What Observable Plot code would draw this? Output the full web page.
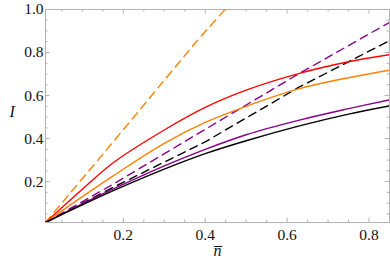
<!DOCTYPE html>
<html><head><meta charset="utf-8">
<script src="https://cdn.jsdelivr.net/npm/d3@7"></script>
<script src="https://cdn.jsdelivr.net/npm/@observablehq/plot@0.6"></script>
<style>body{margin:0;background:#fff}</style>
</head><body><div id="chart"></div>
<script>
// shared x grid for the solid curves
const nSolid = [0.01, 0.1, 0.177, 0.3, 0.4, 0.5, 0.63, 0.75, 0.85];
const redSolid    = [0.01, 0.165, 0.29, 0.44, 0.545, 0.625, 0.703, 0.757, 0.79];
const orangeSolid = [0.01, 0.13, 0.229, 0.378, 0.475, 0.55, 0.632, 0.683, 0.718];
const purpleSolid = [0.01, 0.097, 0.167, 0.273, 0.35, 0.418, 0.486, 0.539, 0.58];
const blackSolid  = [0.01, 0.092, 0.159, 0.258, 0.33, 0.39, 0.459, 0.514, 0.552];
// dashed curves
const nOrangeDash = [0.01, 0.157, 0.379, 0.448];
const orangeDash  = [0.01, 0.343, 0.852, 1.0];
const nPurpleDash = [0.01, 0.177, 0.4, 0.63, 0.85];
const purpleDash  = [0.01, 0.19, 0.443, 0.703, 0.94];
const nBlackDash  = [0.01, 0.177, 0.4, 0.63, 0.85];
const blackDash   = [0.01, 0.175, 0.385, 0.64, 0.855];
// ticks
const xMajor = [0.2, 0.4, 0.6, 0.8];
const yMajor = [0.2, 0.4, 0.6, 0.8, 1.0];
const xMinor = [0.05,0.1,0.15,0.25,0.3,0.35,0.45,0.5,0.55,0.65,0.7,0.75,0.85];
const yMinor = [0.05,0.1,0.15,0.25,0.3,0.35,0.45,0.5,0.55,0.65,0.7,0.75,0.85,0.9,0.95];
const xDomain = [0.01, 0.85];
const yDomain = [0.01, 1.0];

const pts = (xs, ys) => xs.map((x, i) => ({x, y: ys[i]}));
const serif = "'Liberation Serif', 'Times New Roman', serif";
const gray = "#b3b3b3";
const fmt = d3.format(".1f");

function tickMarks(vals, len) {
  return [
    Plot.ruleX(vals, {x: d => d, y1: () => yDomain[0], y2: () => yDomain[0], insetTop: -len, stroke: gray}),
    Plot.ruleX(vals, {x: d => d, y1: () => yDomain[1], y2: () => yDomain[1], insetBottom: -len, stroke: gray})
  ];
}
function tickMarksY(vals, len) {
  return [
    Plot.ruleY(vals, {y: d => d, x1: () => xDomain[0], x2: () => xDomain[0], insetRight: -len, stroke: gray}),
    Plot.ruleY(vals, {y: d => d, x1: () => xDomain[1], x2: () => xDomain[1], insetLeft: -len, stroke: gray})
  ];
}

const line = (data, color, dashed, curve) => Plot.line(data, {
  x: "x", y: "y", stroke: color, strokeWidth: 1.4,
  strokeDasharray: dashed ? "8,5.5" : null, curve, clip: true
});

const chart = Plot.plot({
  width: 390, height: 266,
  marginLeft: 45, marginRight: 1, marginTop: 9, marginBottom: 44,
  x: {domain: xDomain},
  y: {domain: yDomain},
  style: {fontFamily: serif, background: "#fff"},
  marks: [
    Plot.frame({stroke: gray}),
    ...tickMarks(xMajor, 4.5), ...tickMarks(xMinor, 2.5),
    ...tickMarksY(yMajor, 4.5), ...tickMarksY(yMinor, 2.5),
    Plot.axisX({ticks: xMajor, tickSize: 0, tickPadding: 6, tickFormat: fmt, label: null, fontSize: 15.5, fontFamily: serif, fill: "#111"}),
    Plot.axisY({ticks: yMajor, tickSize: 0, tickPadding: 2, tickFormat: fmt, label: null, fontSize: 15.5, fontFamily: serif, fill: "#111"}),
    line(pts(nOrangeDash, orangeDash), "#ff8000", true, "linear"),
    line(pts(nPurpleDash, purpleDash), "#880088", true, "linear"),
    line(pts(nBlackDash, blackDash), "#000", true, "linear"),
    line(pts(nSolid, redSolid), "#ff0000", false, "catmull-rom"),
    line(pts(nSolid, orangeSolid), "#ff8000", false, "catmull-rom"),
    line(pts(nSolid, purpleSolid), "#880088", false, "catmull-rom"),
    line(pts(nSolid, blackSolid), "#000", false, "catmull-rom"),
    Plot.text(["I"], {text: d => d, frameAnchor: "left", dx: -36, dy: -4, fontSize: 16, fontStyle: "italic", fontFamily: serif, fill: "#111"}),
    Plot.text(["n\u0305"], {text: d => d, frameAnchor: "bottom", dy: 33, fontSize: 16, fontStyle: "italic", fontFamily: serif, fill: "#111"})
  ]
});
document.getElementById("chart").appendChild(chart);
</script>
</body></html>
